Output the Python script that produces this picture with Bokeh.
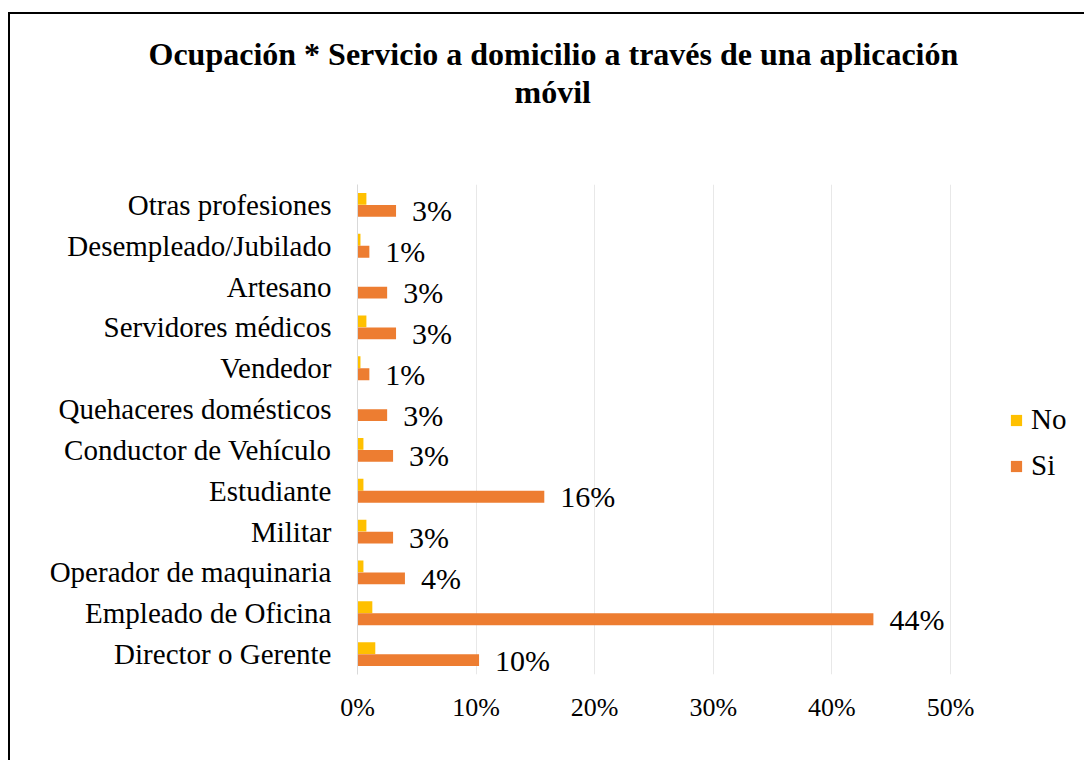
from bokeh.plotting import figure
from bokeh.models import (FactorRange, Range1d, FixedTicker, PrintfTickFormatter,
                          Legend, LegendItem, Title, ColumnDataSource)
from bokeh.transform import dodge
from bokeh.core.properties import value
from bokeh.embed import file_html
from bokeh.resources import INLINE

# Data (bottom to top)
categories = ["Director o Gerente", "Empleado de Oficina", "Operador de maquinaria",
              "Militar", "Estudiante", "Conductor de Vehículo", "Quehaceres domésticos",
              "Vendedor", "Servidores médicos", "Artesano", "Desempleado/Jubilado",
              "Otras profesiones"]
no_values = [1.5, 1.25, 0.5, 0.75, 0.5, 0.5, 0.0, 0.25, 0.75, 0.0, 0.25, 0.75]
si_values = [10.25, 43.5, 4.0, 3.0, 15.75, 3.0, 2.5, 1.0, 3.25, 2.5, 1.0, 3.25]
si_labels = ["10%", "44%", "4%", "3%", "16%", "3%", "3%", "1%", "3%", "3%", "1%", "3%"]
x_ticks = [0, 10, 20, 30, 40, 50]
series_names = ["No", "Si"]
colors = ["#FFC000", "#ED7D31"]
title_line1 = "Ocupación * Servicio a domicilio a través de una aplicación"
title_line2 = "móvil"

FONT = "Liberation Serif"

# Layout (pixels)
W, H = 1076, 748
BL, BR, BT, BB = 347, 6, 170, 88
frame_w = W - BL - BR
axis_px_50 = 593  # pixels spanned by 0..50% in the plot area
x_end = 50 * frame_w / axis_px_50

src = ColumnDataSource(dict(cat=categories, no=no_values, si=si_values, lab=si_labels))

p = figure(width=W, height=H,
           y_range=FactorRange(factors=categories), x_range=Range1d(0, x_end),
           output_backend="svg", toolbar_location=None,
           min_border_left=BL, min_border_right=BR,
           min_border_top=BT, min_border_bottom=BB)
p.styles = {"border-left": "2px solid #000", "border-top": "2px solid #000",
            "margin-top": "12px", "margin-left": "8px"}

p.title.text = title_line1
p.title.align = "left"
p.title.offset = -209
p.title.text_font = FONT
p.title.text_font_style = "bold"
p.title.text_font_size = "32px"
p.title.text_color = "#000000"
p.title.standoff = 0

t2 = Title(text=title_line2, align="left", offset=157, text_font=FONT,
           text_font_style="bold", text_font_size="32px", text_color="#000000",
           standoff=0)
spacer = Title(text=" ", text_font_size="56px")
p.add_layout(spacer, "above")
p.add_layout(t2, "above")

r_no = p.hbar(y=dodge("cat", 0.147, range=p.y_range), left=0, right="no",
              height=0.29, color=colors[0], line_color=None, source=src)
r_si = p.hbar(y=dodge("cat", -0.147, range=p.y_range), left=0, right="si",
              height=0.29, color=colors[1], line_color=None, source=src)
p.text(x="si", y=dodge("cat", -0.147, range=p.y_range), text="lab", x_offset=16,
       text_baseline="middle", text_align="left", text_font=value(FONT),
       text_font_size="30px", text_color="#000000", source=src)

p.xaxis.ticker = FixedTicker(ticks=x_ticks)
p.xaxis.formatter = PrintfTickFormatter(format="%d%%")
p.xaxis.axis_line_color = None
p.xaxis.major_tick_line_color = None
p.xaxis.minor_tick_line_color = None
p.xaxis.major_label_text_font = FONT
p.xaxis.major_label_text_font_size = "26px"
p.xaxis.major_label_text_color = "#000000"
p.xaxis.major_label_standoff = 12

p.yaxis.axis_line_color = "#d9d9d9"
p.yaxis.major_tick_line_color = None
p.yaxis.minor_tick_line_color = None
p.yaxis.major_label_text_font = FONT
p.yaxis.major_label_text_font_size = "29px"
p.yaxis.major_label_text_color = "#000000"
p.yaxis.major_label_standoff = 20

p.xgrid.grid_line_color = "#e8e8e8"
p.ygrid.grid_line_color = None
p.outline_line_color = None

legend = Legend(items=[LegendItem(label=series_names[0], renderers=[r_no]),
                       LegendItem(label=series_names[1], renderers=[r_si])],
                location=(652, 192), padding=0, border_line_color=None,
                background_fill_alpha=0, glyph_width=14, glyph_height=14,
                label_text_font=FONT, label_text_font_size="29px",
                label_text_color="#000000", spacing=13, label_standoff=8)
p.add_layout(legend)

open("out.html", "w").write(file_html(p, INLINE))
